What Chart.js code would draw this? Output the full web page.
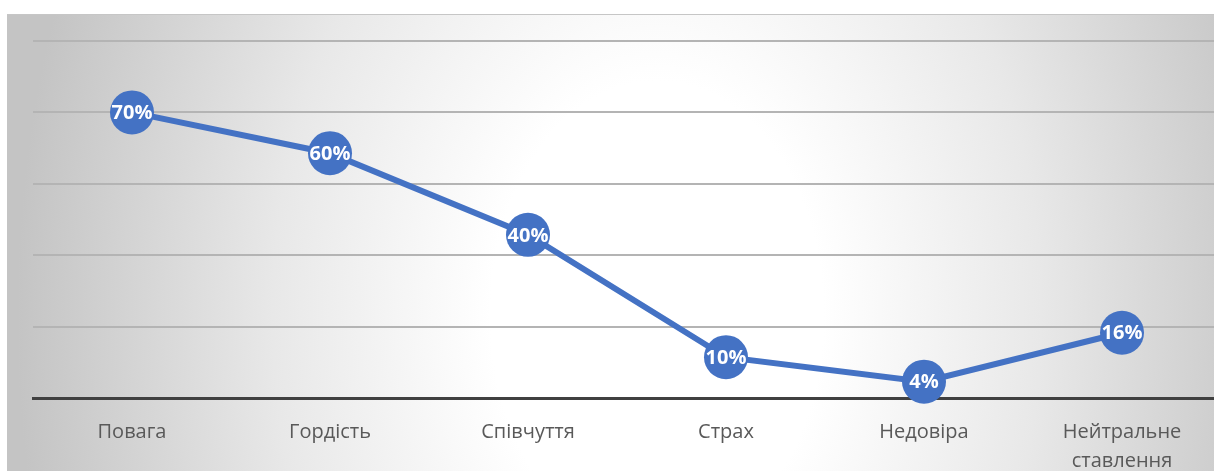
<!DOCTYPE html>
<html>
<head>
<meta charset="utf-8">
<script src="https://cdn.jsdelivr.net/npm/chart.js@4"></script>
<style>
  html, body { margin: 0; padding: 0; background: #fff; overflow: hidden; width: 1214px; height: 471px; }
  #box {
    position: absolute; left: 7px; top: 14px; width: 1236px; height: 481px;
    background: radial-gradient(640px 900px at 650px 300px, #ffffff 0%, #ffffff 26%, #e8e8e8 60%, #c4c4c4 100%);
    border-top: 1px solid #c6c6c6;
  }
  #wrap { position: absolute; left: 0; top: 0; width: 1236px; height: 481px; }
</style>
</head>
<body>
<div id="box"><div id="wrap"><canvas id="c"></canvas></div></div>
<script>
// ---- Data ----
const categories = ['Повага', 'Гордість', 'Співчуття', 'Страх', 'Недовіра', ['Нейтральне', 'ставлення']];
const values     = [70, 60, 40, 10, 4, 16];
const valueLabels = ['70%', '60%', '40%', '10%', '4%', '16%'];
const yMax  = 87.5;   // axis top in the picture
const yStep = 17.5;

const BLUE = '#4472C4';

// white value text centred on each marker
const pointLabels = {
  id: 'pointLabels',
  afterDatasetsDraw(chart) {
    const { ctx } = chart;
    const meta = chart.getDatasetMeta(0);
    ctx.save();
    ctx.font = 'bold 20px "Open Sans"';
    ctx.fillStyle = '#ffffff';
    ctx.textAlign = 'center';
    ctx.textBaseline = 'middle';
    meta.data.forEach((pt, i) => {
      ctx.fillText(valueLabels[i], pt.x, pt.y + 1);
    });
    ctx.restore();
  }
};

new Chart(document.getElementById('c'), {
  type: 'line',
  data: {
    labels: categories,
    datasets: [{
      data: values,
      borderColor: BLUE,
      borderWidth: 6,
      pointRadius: 22,
      pointHoverRadius: 22,
      pointBackgroundColor: BLUE,
      pointBorderWidth: 0,
      tension: 0,
      clip: false
    }]
  },
  options: {
    responsive: true,
    maintainAspectRatio: false,
    animation: false,
    layout: { padding: { left: 26, right: 0, top: 26, bottom: 0 } },
    plugins: { legend: { display: false }, tooltip: { enabled: false } },
    scales: {
      x: {
        offset: true,
        grid: { display: false, drawTicks: false },
        border: { display: true, color: '#404040', width: 3 },
        ticks: {
          color: '#595959',
          font: { family: '"Open Sans"', size: 20, lineHeight: 1.45 },
          padding: 20,
          maxRotation: 0,
          autoSkip: false
        }
      },
      y: {
        min: 0,
        max: yMax,
        ticks: { display: false, stepSize: yStep },
        border: { display: false },
        grid: {
          drawTicks: false,
          lineWidth: 2,
          color: ctx => ctx.tick && ctx.tick.value === 0 ? 'rgba(0,0,0,0)' : '#b4b4b4'
        }
      }
    }
  },
  plugins: [pointLabels]
});
</script>
</body>
</html>
